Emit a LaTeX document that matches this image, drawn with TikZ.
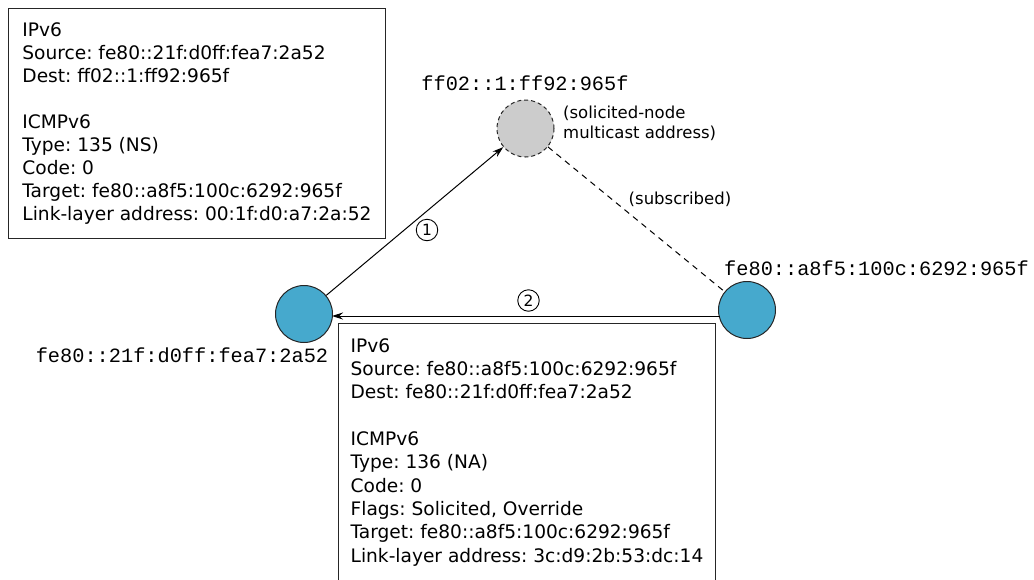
\documentclass[tikz,border=0pt]{standalone}
\usepackage{fontspec}
\setmainfont{DejaVu Sans}
\setmonofont{Liberation Mono}
\usetikzlibrary{arrows.meta}
\frenchspacing
\definecolor{hostblue}{HTML}{46A9CD}
\definecolor{groupgray}{HTML}{CCCCCC}
\tikzset{
  host/.style={circle, draw=black!85, line width=1pt, fill=hostblue, minimum size=57pt, inner sep=0pt},
  mcast/.style={circle, draw=black!85, line width=1pt, fill=groupgray, minimum size=57pt, inner sep=0pt, dash pattern=on 4pt off 3pt},
  addr/.style={font=\ttfamily\fontsize{20.3}{24}\selectfont, inner sep=0pt},
  note/.style={font=\fontsize{16.5}{20}\selectfont, inner sep=0pt, align=left},
  pkt/.style={draw=black!85, line width=1pt, anchor=north west, align=left, minimum width=377pt},
  msg/.style={line width=1pt, -{Stealth[length=11pt,width=7pt]}},
  step label/.style={circle, draw=black, line width=0.9pt, minimum size=21.5pt, inner sep=0pt,
                     font=\fontsize{15.5}{15.5}\selectfont}
}
\begin{document}
\begin{tikzpicture}[x=1pt,y=-1pt]
\useasboundingbox (0,0) rectangle (1034,579);

% hosts and the solicited-node group
\node[mcast] (group) at (525.5,128.5) {};
\node[host] (hostA) at (304,314) {};
\node[host] (hostB) at (747,310) {};

\node[addr] (groupaddr) at (525,83) {ff02::1:ff92:965f};
\node[addr] (addrA) at (182,355) {fe80::21f:d0ff:fea7:2a52};
\node[addr] (addrB) at (876.5,268) {fe80::a8f5:100c:6292:965f};

\node[note, anchor=west] (groupnote) at (563,123) {(solicited-node\\multicast address)};
\node[note] (subnote) at (680,199) {(subscribed)};

% subscription and messages
\draw[line width=1pt, dash pattern=on 6pt off 5pt] (group) -- (hostB);
\draw[msg] (hostA) -- (group);
\coordinate (naStart) at (719.5,316);
\coordinate (naEnd) at (332,316);
\draw[msg] (naStart) -- (naEnd);

% step numbers
\node[step label] (one) at (427,230) {1};
\node[step label] (two) at (528.5,300.5) {2};

% packet contents
\node[pkt, inner ysep=14.3pt,
      font=\fontsize{18.6}{23}\selectfont] (ns) at (8,8)
  {IPv6\\
   Source: fe80::21f:d0ff:fea7:2a52\\
   Dest: ff02::1:ff92:965f\\[23pt]
   ICMPv6\\
   Type: 135 (NS)\\
   Code: 0\\
   Target: fe80::a8f5:100c:6292:965f\\
   Link-layer address: 00:1f:d0:a7:2a:52};

\node[pkt, inner ysep=15pt,
      font=\fontsize{18.6}{23.3}\selectfont] (na) at (338,323)
  {IPv6\\
   Source: fe80::a8f5:100c:6292:965f\\
   Dest: fe80::21f:d0ff:fea7:2a52\\[23.3pt]
   ICMPv6\\
   Type: 136 (NA)\\
   Code: 0\\
   Flags: Solicited, Override\\
   Target: fe80::a8f5:100c:6292:965f\\
   Link-layer address: 3c:d9:2b:53:dc:14};
\end{tikzpicture}
\end{document}
